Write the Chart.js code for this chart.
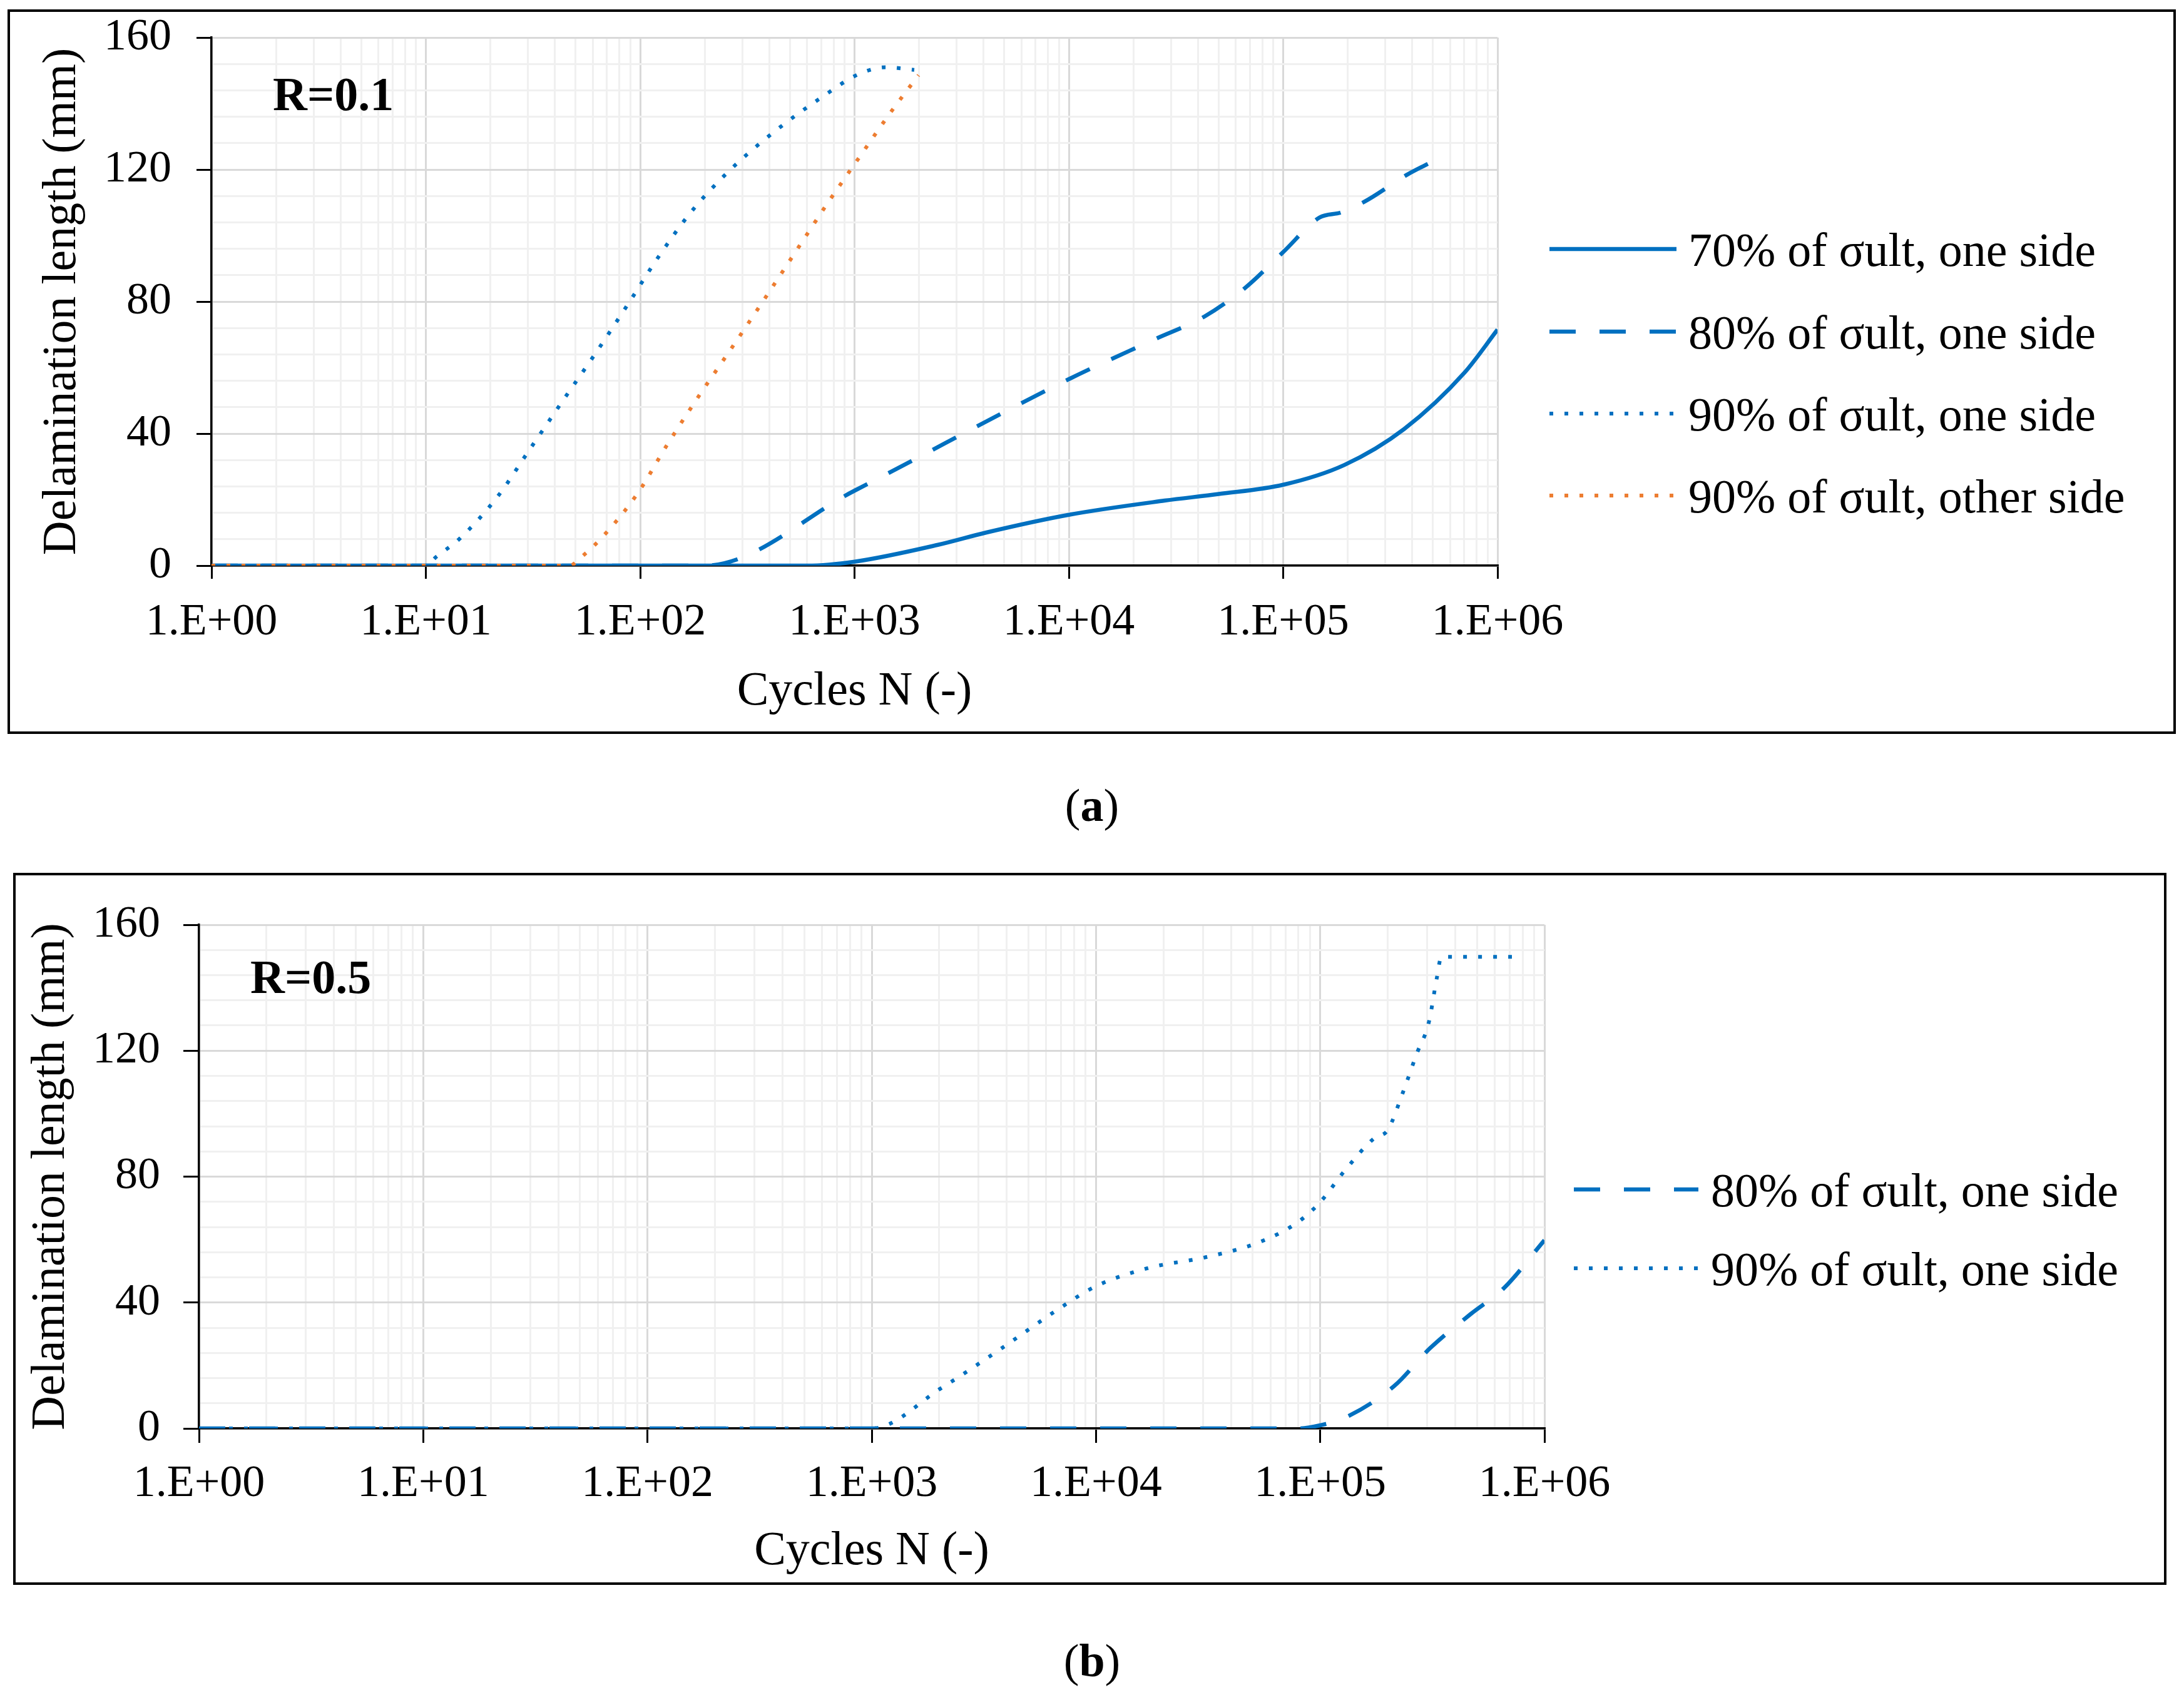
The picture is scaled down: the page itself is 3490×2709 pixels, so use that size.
<!DOCTYPE html>
<html>
<head>
<meta charset="utf-8">
<title>Delamination length vs cycles</title>
<script src="https://cdn.jsdelivr.net/npm/chart.js@4.4.1/dist/chart.umd.min.js"></script>
<style>
  body { margin: 0; background: #fff; width: 3490px; height: 2709px; position: relative; overflow: hidden; font-family: 'Liberation Serif', 'Times New Roman', serif; }
  .frame { position: absolute; border: 4.5px solid #000; box-sizing: border-box; }
  .wrap { position: absolute; left: 0; width: 3490px; }
  .tag { position: absolute; font-weight: bold; font-size: 76px; line-height: 1; color: #000; }
  .caption { position: absolute; left: 1645px; width: 200px; text-align: center; font-size: 74px; line-height: 1; color: #000; }
</style>
</head>
<body>
<div class="frame" style="left:12px;top:15px;width:3465px;height:1158px"></div>
<div class="frame" style="left:21px;top:1395px;width:3441px;height:1138px"></div>

<div class="wrap" style="top:0;height:1190px"><canvas id="chartA" width="3490" height="1190"></canvas></div>
<div class="wrap" style="top:1390px;height:1140px"><canvas id="chartB" width="3490" height="1140"></canvas></div>

<div class="tag" style="left:436px;top:112px">R=0.1</div>
<div class="tag" style="left:400px;top:1523px">R=0.5</div>
<div class="caption" style="top:1250px">(<b>a</b>)</div>
<div class="caption" style="top:2617px">(<b>b</b>)</div>

<script>
// panel (a), R = 0.1
const cyclesA70 = [1, 600, 1000, 2450, 4100, 10000, 28000, 50000, 100000, 193000, 367000, 700000, 1000000];
const lenA70    = [0, 0, 1.2, 6.3, 10, 15.4, 19.7, 21.7, 24.5, 30.5, 41.4, 58.4, 71.5];

const cyclesA80 = [1, 200, 1000, 10000, 25000, 43000, 66000, 100000, 148000, 186000, 240000, 380000, 475000];
const lenA80    = [0, 0, 22.7, 56.5, 68.5, 75.5, 84, 95, 105.5, 107, 110.3, 118.5, 121.8];

const cyclesA90 = [1, 10, 11.2, 14.4, 21.6, 30.8, 43.6, 61.7, 86.7, 121, 174, 268, 425, 703, 1045, 1400, 1900];
const lenA90    = [0, 0, 2.7, 8.2, 20.9, 35.6, 50, 64.2, 78.7, 93.3, 107.4, 120.4, 131.6, 141.9, 148.9, 151, 150.2];

const cyclesA90o = [1, 47, 52.5, 65.6, 96.6, 133, 187, 265, 376, 525, 738, 1055, 1500, 1990];
const lenA90o    = [0, 0, 2.3, 8.2, 21.6, 36.4, 51.2, 65.6, 80.3, 94.6, 109.2, 123.8, 138, 148.6];

// panel (b), R = 0.5
const cyclesB80 = [1, 80000, 100000, 129000, 214000, 309000, 468000, 660000, 1000000];
const lenB80    = [0, 0, 1, 3.4, 13.5, 25.5, 36.3, 44.6, 59.8];

const cyclesB90 = [1, 1000, 2040, 3800, 6900, 10000, 17200, 30900, 53700, 79400, 100000, 129000, 174000, 200000, 234000, 269000, 305000, 331000, 347000, 716000];
const lenB90    = [0, 0, 12.8, 25.5, 38.2, 45.2, 51, 54.4, 59.2, 65.5, 71.9, 82, 92.2, 94.8, 106.8, 118.9, 129, 143, 149.8, 149.8];

const labels = {
  s70: '70% of σult, one side',
  s80: '80% of σult, one side',
  s90: '90% of σult, one side',
  s90o: '90% of σult, other side'
};

const FONT = 'Liberation Serif';
const BLUE = '#0070C0', ORANGE = '#ED7D31';

// grid positions: 1..9 per decade for x, every 8 mm for y
const xGrid = [];
for (let e = 0; e < 6; e++) for (let m = 1; m <= 9; m++) xGrid.push(m * Math.pow(10, e));
xGrid.push(1000000);
const yGrid = [];
for (let v = 0; v <= 160; v += 8) yGrid.push(v);

const isDecade = v => Math.abs(Math.log10(v) - Math.round(Math.log10(v))) < 1e-9;
const sci = v => '1.E+' + String(Math.round(Math.log10(v))).padStart(2, '0');
const pts = (xs, ys) => xs.map((x, i) => ({x, y: ys[i]}));

function line(label, xs, ys, style, order) {
  return { label, data: pts(xs, ys), borderColor: style.color, backgroundColor: style.color,
    borderWidth: style.width, borderDash: style.dash, pointRadius: 0, pointHoverRadius: 0,
    cubicInterpolationMode: 'monotone', fill: false, order };
}
const SOLID = { color: BLUE, width: 6.5, dash: [] };
const DASH = { color: BLUE, width: 6.5, dash: [42, 38] };
const DOT = { color: BLUE, width: 6, dash: [6, 18] };
const DOT_OR = { color: ORANGE, width: 6, dash: [6, 18] };

// legend drawn beside the plot, one row per dataset
const sideLegend = {
  id: 'sideLegend',
  afterDraw(chart, args, opts) {
    const ctx = chart.ctx;
    ctx.save();
    chart.data.datasets.forEach((ds, i) => {
      const y = opts.rows[i];
      ctx.beginPath();
      ctx.strokeStyle = ds.borderColor;
      ctx.lineWidth = ds.borderWidth;
      ctx.setLineDash(ds.borderDash || []);
      ctx.moveTo(opts.x0, y);
      ctx.lineTo(opts.x1, y);
      ctx.stroke();
      ctx.setLineDash([]);
      ctx.fillStyle = '#000';
      ctx.font = '76px "' + FONT + '"';
      ctx.textBaseline = 'middle';
      ctx.fillText(ds.label, opts.textX, y + 7);
    });
    ctx.restore();
  }
};

function makeChart(id, datasets, g) {
  return new Chart(document.getElementById(id), {
    type: 'line',
    data: { datasets },
    plugins: [sideLegend],
    options: {
      responsive: false, animation: false, devicePixelRatio: 1, events: [],
      layout: { padding: { left: 0, top: g.top, right: g.right, bottom: g.bottom } },
      plugins: { legend: { display: false }, tooltip: { enabled: false }, sideLegend: g.legend },
      scales: {
        x: {
          type: 'logarithmic', min: 1, max: 1000000,
          afterBuildTicks(s) { s.ticks = xGrid.map(v => ({ value: v })); },
          afterFit(s) { s.height = g.xHeight; s.paddingLeft = 0; s.paddingRight = 0; },
          ticks: { autoSkip: false, maxRotation: 0, minRotation: 0, padding: g.xPad, color: '#000',
            font: { family: FONT, size: 72 }, callback: v => isDecade(v) ? sci(v) : '' },
          grid: { color: c => isDecade(c.tick.value) ? '#d9d9d9' : '#f0f0f0', lineWidth: 3,
            tickLength: g.xTick, tickWidth: 3, tickColor: c => isDecade(c.tick.value) ? '#000' : 'rgba(0,0,0,0)' },
          border: { color: '#000', width: 3.5 },
          title: { display: true, text: 'Cycles N (-)', color: '#000', font: { family: FONT, size: 76 },
            padding: { top: 0, bottom: g.xTitlePad } }
        },
        y: {
          min: 0, max: 160,
          afterBuildTicks(s) { s.ticks = yGrid.map(v => ({ value: v })); },
          afterFit(s) { s.width = g.yWidth; s.paddingTop = 0; s.paddingBottom = 0; },
          ticks: { autoSkip: false, padding: g.yPad, color: '#000', font: { family: FONT, size: 72 },
            callback: v => v % 40 === 0 ? v : '' },
          grid: { color: c => c.tick.value % 40 === 0 ? '#d9d9d9' : '#f0f0f0', lineWidth: 3,
            tickLength: g.yTick, tickWidth: 3, tickColor: c => c.tick.value % 40 === 0 ? '#000' : 'rgba(0,0,0,0)' },
          border: { color: '#000', width: 3.5 },
          title: { display: true, text: 'Delamination length (mm)', color: '#000', font: { family: FONT, size: 76 },
            padding: { top: g.yTitlePad, bottom: 0 } }
        }
      }
    }
  });
}

makeChart('chartA', [
  line(labels.s70, cyclesA70, lenA70, SOLID, 4),
  line(labels.s80, cyclesA80, lenA80, DASH, 3),
  line(labels.s90, cyclesA90, lenA90, DOT, 2),
  line(labels.s90o, cyclesA90o, lenA90o, DOT_OR, 1)
], { top: 60, right: 1097, bottom: 36, xHeight: 250, yWidth: 338, xPad: 27, xTick: 21, yPad: 40, yTick: 24,
     xTitlePad: 2, yTitlePad: 54,
     legend: { x0: 2476, x1: 2679, textX: 2698, rows: [398, 530, 661, 792] } });

makeChart('chartB', [
  line(labels.s80, cyclesB80, lenB80, DASH, 2),
  line(labels.s90, cyclesB90, lenB90, DOT, 1)
], { top: 88, right: 1022, bottom: 0, xHeight: 247, yWidth: 318, xPad: 23, xTick: 23, yPad: 37, yTick: 25,
     xTitlePad: 4, yTitlePad: 36,
     legend: { x0: 2515, x1: 2714, textX: 2734, rows: [511, 637] } });
</script>
</body>
</html>
